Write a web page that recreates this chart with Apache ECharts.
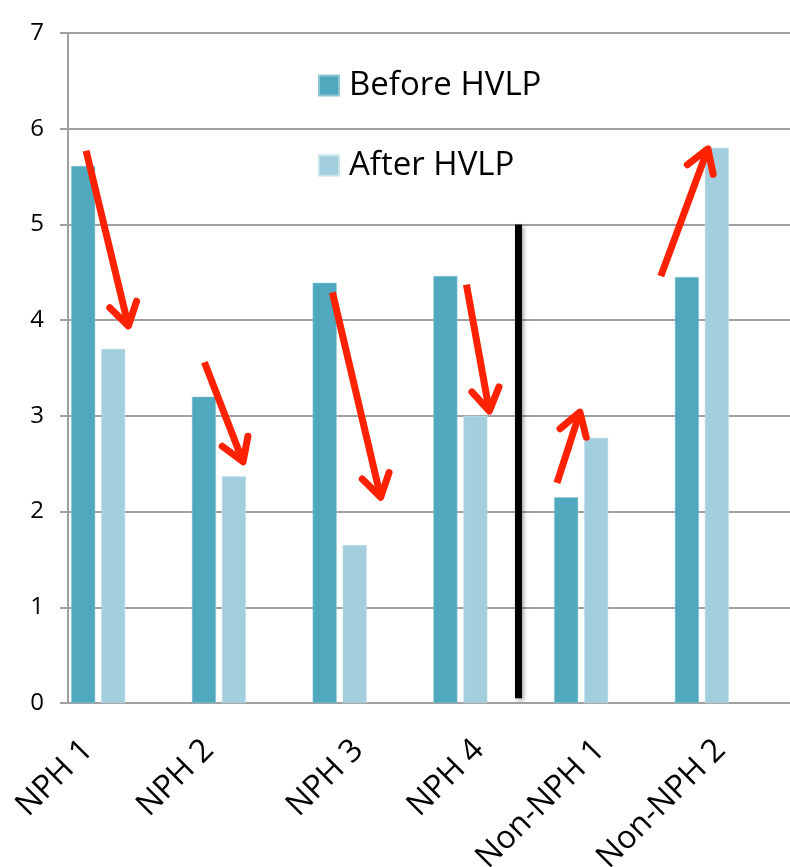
<!DOCTYPE html>
<html>
<head>
<meta charset="utf-8">
<script src="https://cdn.jsdelivr.net/npm/echarts@6/dist/echarts.min.js"></script>
<style>
  html, body { margin: 0; padding: 0; background: #fff; }
  #myChart { width: 790px; height: 867px; }
</style>
</head>
<body>
<div id="myChart"></div>
<script>
// 数据
var categories = ['NPH 1', 'NPH 2', 'NPH 3', 'NPH 4', 'Non-NPH 1', 'Non-NPH 2']
var beforeValues = [5.61, 3.20, 4.39, 4.46, 2.15, 4.45]
var afterValues = [3.70, 2.37, 1.65, 3.00, 2.77, 5.80]
var yTicks = [0, 1, 2, 3, 4, 5, 6, 7]
// 红色箭头: [起点 x, 起点 y, 箭头尖 x, 箭头尖 y]，x 为类目序号
var arrows = [
  [-0.10, 5.77, 0.25, 3.94],
  [0.88, 3.56, 1.20, 2.52],
  [1.94, 4.29, 2.34, 2.15],
  [3.05, 4.37, 3.24, 3.05],
  [3.80, 2.30, 3.99, 3.04],
  [4.66, 4.46, 5.05, 5.79]
]
// 黑色分隔线
var divider = [3.476, 0.05, 3.476, 5]

// 画箭头（杆 + 两条箭头边）
function renderArrow (params, api) {
  var p0 = api.coord([api.value(0), api.value(1)])
  var p1 = api.coord([api.value(2), api.value(3)])
  var ang = Math.atan2(p1[1] - p0[1], p1[0] - p0[0])
  var len = 26
  var spread = 32 * Math.PI / 180
  var a1 = [p1[0] - len * Math.cos(ang - spread), p1[1] - len * Math.sin(ang - spread)]
  var a2 = [p1[0] - len * Math.cos(ang + spread), p1[1] - len * Math.sin(ang + spread)]
  return {
    type: 'group',
    children: [
      {
        type: 'polyline',
        shape: { points: [p0, p1] },
        style: { stroke: '#ff2200', lineWidth: 7, lineCap: 'butt', fill: 'none' }
      },
      {
        type: 'polyline',
        shape: { points: [a1, p1, a2] },
        style: { stroke: '#ff2200', lineWidth: 7, lineCap: 'round', lineJoin: 'round', fill: 'none' }
      }
    ]
  }
}

// 标签位置微调（原图标签并不完全对齐类目中心）
function labelShift (i) {
  return i < 2 ? -0.085 : 0.155
}

var myChart = echarts.init(document.getElementById('myChart'))
myChart.setOption({
  animation: false,
  textStyle: { fontFamily: 'Open Sans' },
  grid: { left: 68, right: 0, top: 33, bottom: 164, containLabel: false, outerBoundsMode: 'none' },
  legend: {
    orient: 'vertical',
    left: 313,
    top: 64,
    itemWidth: 20,
    itemHeight: 20,
    itemGap: 47,
    icon: 'rect',
    textStyle: { fontSize: 33, color: '#000', padding: [0, 0, 0, 5] },
    data: ['Before HVLP', 'After HVLP']
  },
  xAxis: {
    type: 'value',
    min: -0.25,
    max: 5.73,
    axisLine: { show: true, onZero: false, lineStyle: { color: '#a0a0a0', width: 2 } },
    axisTick: { show: false },
    splitLine: { show: false },
    axisLabel: {
      customValues: categories.map(function (c, i) { return i + labelShift(i) }),
      formatter: function (v) {
        for (var i = 0; i < categories.length; i++) {
          if (Math.abs(i + labelShift(i) - v) < 0.01) return categories[i]
        }
        return ''
      },
      rotate: 45,
      margin: 42,
      fontSize: 32,
      color: '#000'
    }
  },
  yAxis: {
    type: 'value',
    min: yTicks[0],
    max: yTicks[yTicks.length - 1],
    interval: 1,
    axisLine: { show: true, onZero: false, lineStyle: { color: '#a0a0a0', width: 2 } },
    axisTick: { show: true, length: 8, lineStyle: { color: '#a0a0a0', width: 2 } },
    splitLine: { show: true, lineStyle: { color: '#a0a0a0', width: 2 } },
    axisLabel: { fontSize: 24, color: '#000', margin: 24 }
  },
  series: [
    {
      name: 'Before HVLP',
      type: 'bar',
      barWidth: 24,
      barGap: '25%',
      itemStyle: { color: '#50a8be', borderColor: '#8cc6d4', borderWidth: 0.5 },
      data: beforeValues.map(function (v, i) { return [i, v] })
    },
    {
      name: 'After HVLP',
      type: 'bar',
      barWidth: 24,
      barGap: '25%',
      itemStyle: { color: '#a2cedd', borderColor: '#c6e2eb', borderWidth: 0.5 },
      data: afterValues.map(function (v, i) { return [i, v] })
    },
    {
      type: 'lines',
      coordinateSystem: 'cartesian2d',
      silent: true,
      z: 5,
      lineStyle: {
        color: '#000',
        width: 7,
        opacity: 1,
        shadowBlur: 4,
        shadowColor: 'rgba(0,0,0,0.35)',
        shadowOffsetX: 2,
        shadowOffsetY: 2
      },
      data: [{ coords: [[divider[0], divider[1]], [divider[2], divider[3]]] }]
    },
    {
      type: 'custom',
      silent: true,
      z: 6,
      renderItem: renderArrow,
      encode: { x: [0, 2], y: [1, 3] },
      data: arrows
    }
  ]
})
</script>
</body>
</html>
